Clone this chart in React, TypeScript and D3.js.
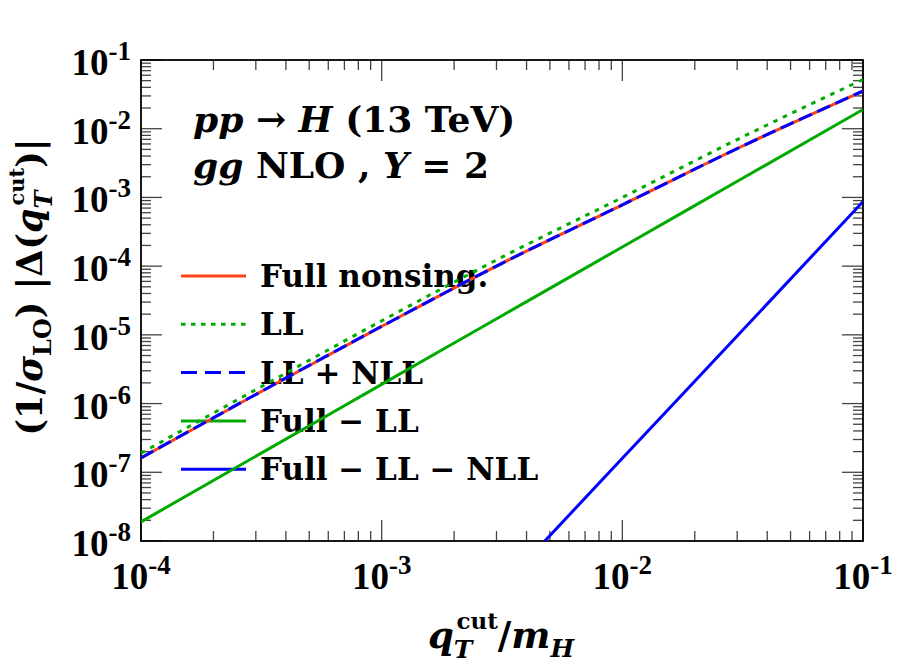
import * as d3 from 'd3'

// x = qT^cut / mH, y = (1/sigma_LO) |Delta(qT^cut)|
const qFull = [1e-4, 3.16e-4, 1e-3, 3.16e-3, 1e-2, 3.16e-2, 1e-1]
const fullNonsing = [1.62e-7, 1.5e-6, 1.33e-5, 1.1e-4, 7.8e-4, 5.6e-3, 3.54e-2]
const llOnly = [1.9e-7, 1.76e-6, 1.6e-5, 1.35e-4, 1.0e-3, 7.6e-3, 5.2e-2]
const llNll = [1.62e-7, 1.5e-6, 1.33e-5, 1.1e-4, 7.8e-4, 5.6e-3, 3.54e-2]
const fullMinusLL = [1.9e-8, 1.9e-7, 1.9e-6, 1.9e-5, 1.9e-4, 1.9e-3, 1.9e-2]

const qHigh = [4e-3, 1e-2, 3e-2, 1e-1]
const fullMinusLLNLL = [5.2e-9, 1.6e-7, 9.6e-6, 8.7e-4]

const xDecades = [-4, -3, -2, -1]
const yDecades = [-8, -7, -6, -5, -4, -3, -2, -1]

const RED = '#ff4214'
const GREEN = '#00aa00'
const BLUE = '#0000ff'

const serif = '"DejaVu Serif", serif'
const numFont = '"Liberation Serif", serif'

export default function App() {
  const width = 900
  const height = 665
  const m = { left: 141, right: 863, top: 60, bottom: 541 }

  const x = d3.scaleLog().domain([1e-4, 1e-1]).range([m.left, m.right])
  const y = d3.scaleLog().domain([1e-8, 1e-1]).range([m.bottom, m.top])

  const line = (xs: number[], ys: number[]) =>
    d3.line<number>()
      .x((_, i) => x(xs[i]))
      .y(d => y(d))
      .curve(d3.curveMonotoneX)(ys) || ''

  // minor tick values
  const xMinor: number[] = []
  for (let e = -4; e < -1; e++) for (let k = 2; k <= 9; k++) xMinor.push(k * Math.pow(10, e))
  const yMinor: number[] = []
  for (let e = -8; e < -1; e++) for (let k = 2; k <= 9; k++) yMinor.push(k * Math.pow(10, e))

  const major = 21
  const minor = 10
  const tickColor = '#444'

  const legend = [
    { label: 'Full nonsing.', color: RED, dash: null },
    { label: 'LL', color: GREEN, dash: '4.5 5.5' },
    { label: 'LL + NLL', color: BLUE, dash: '16 8' },
    { label: 'Full \u2212 LL', color: GREEN, dash: null },
    { label: 'Full \u2212 LL \u2212 NLL', color: BLUE, dash: null },
  ]

  return (
    <svg width={width} height={height} style={{ display: 'block', position: 'absolute', left: 0, top: 0, background: '#fff' }}>
      <defs>
        <clipPath id='plot'>
          <rect x={m.left} y={m.top} width={m.right - m.left} height={m.bottom - m.top} />
        </clipPath>
      </defs>

      {/* ticks */}
      <g stroke={tickColor} strokeWidth={1.3}>
        {xDecades.map(e => {
          const px = x(Math.pow(10, e))
          return (
            <g key={'xM' + e}>
              <line x1={px} x2={px} y1={m.bottom} y2={m.bottom - major} />
              <line x1={px} x2={px} y1={m.top} y2={m.top + major} />
            </g>
          )
        })}
        {xMinor.map(v => (
          <g key={'xm' + v}>
            <line x1={x(v)} x2={x(v)} y1={m.bottom} y2={m.bottom - minor} />
            <line x1={x(v)} x2={x(v)} y1={m.top} y2={m.top + minor} />
          </g>
        ))}
        {yDecades.map(e => {
          const py = y(Math.pow(10, e))
          return (
            <g key={'yM' + e}>
              <line x1={m.left} x2={m.left + major} y1={py} y2={py} />
              <line x1={m.right} x2={m.right - major} y1={py} y2={py} />
            </g>
          )
        })}
        {yMinor.map(v => (
          <g key={'ym' + v}>
            <line x1={m.left} x2={m.left + minor} y1={y(v)} y2={y(v)} />
            <line x1={m.right} x2={m.right - minor} y1={y(v)} y2={y(v)} />
          </g>
        ))}
      </g>

      {/* frame */}
      <rect x={m.left} y={m.top} width={m.right - m.left} height={m.bottom - m.top}
        fill='none' stroke='#000' strokeWidth={1.8} />

      {/* tick labels */}
      <g fontFamily={numFont} fontWeight='bold' fill='#000'>
        {yDecades.map(e => (
          <text key={'yl' + e} x={131} y={y(Math.pow(10, e)) + 15} textAnchor='end' fontSize={37}>
            10<tspan fontSize={27} dy={-15}>{'-' + Math.abs(e)}</tspan>
          </text>
        ))}
        {xDecades.map(e => (
          <text key={'xl' + e} x={x(Math.pow(10, e))} y={589} textAnchor='middle' fontSize={37}>
            10<tspan fontSize={27} dy={-15}>{'-' + Math.abs(e)}</tspan>
          </text>
        ))}
      </g>

      {/* annotations */}
      <g fontFamily={serif} fontWeight='bold' fontSize={36} fill='#000'>
        <text x={193} y={132}>
          <tspan fontStyle='italic'>pp</tspan> {'\u2192'} <tspan fontStyle='italic'>H</tspan> (13 TeV)
        </text>
        <text x={193} y={178}>
          <tspan fontStyle='italic'>gg</tspan> NLO , <tspan fontStyle='italic'>Y</tspan> = 2
        </text>
      </g>

      {/* legend */}
      <g fontFamily={serif} fontWeight='bold' fontSize={31} fill='#000'>
        {legend.map((d, i) => {
          const ly = 276 + i * 48.3
          return (
            <g key={d.label}>
              <line x1={181} x2={246} y1={ly} y2={ly} stroke={d.color} strokeWidth={3}
                strokeDasharray={d.dash || undefined} />
              <text x={260} y={ly + 11}>{d.label}</text>
            </g>
          )
        })}
      </g>

      {/* curves */}
      <g clipPath='url(#plot)' fill='none' strokeWidth={3}>
        <path d={line(qFull, llOnly)} stroke={GREEN} strokeDasharray='4.5 6' />
        <path d={line(qFull, fullMinusLL)} stroke={GREEN} />
        <path d={line(qHigh, fullMinusLLNLL)} stroke={BLUE} />
        <path d={line(qFull, fullNonsing)} stroke={RED} />
        <path d={line(qFull, llNll)} stroke={BLUE} strokeDasharray='14 6' />
      </g>

      {/* axis titles */}
      <text x={501} y={648} textAnchor='middle' fontFamily={serif} fontWeight='bold' fontSize={37}>
        <tspan fontStyle='italic'>q</tspan>
        <tspan fontStyle='italic' fontSize={25} dy={10}>T</tspan>
        <tspan fontSize={23} dx={-16} dy={-29}>cut</tspan>
        <tspan dy={19}>/</tspan>
        <tspan fontStyle='italic'>m</tspan>
        <tspan fontStyle='italic' fontSize={25} dy={9}>H</tspan>
      </text>
      <text transform='translate(42,287) rotate(-90)' textAnchor='middle' fontFamily={serif} fontWeight='bold' fontSize={35}>
        (1/<tspan fontStyle='italic'>σ</tspan>
        <tspan fontSize={24} dy={9}>LO</tspan>
        <tspan dy={-9}>) |Δ(</tspan>
        <tspan fontStyle='italic'>q</tspan>
        <tspan fontStyle='italic' fontSize={24} dy={10}>T</tspan>
        <tspan fontSize={21} dx={-15} dy={-28}>cut</tspan>
        <tspan dy={18}>)|</tspan>
      </text>
    </svg>
  )
}
